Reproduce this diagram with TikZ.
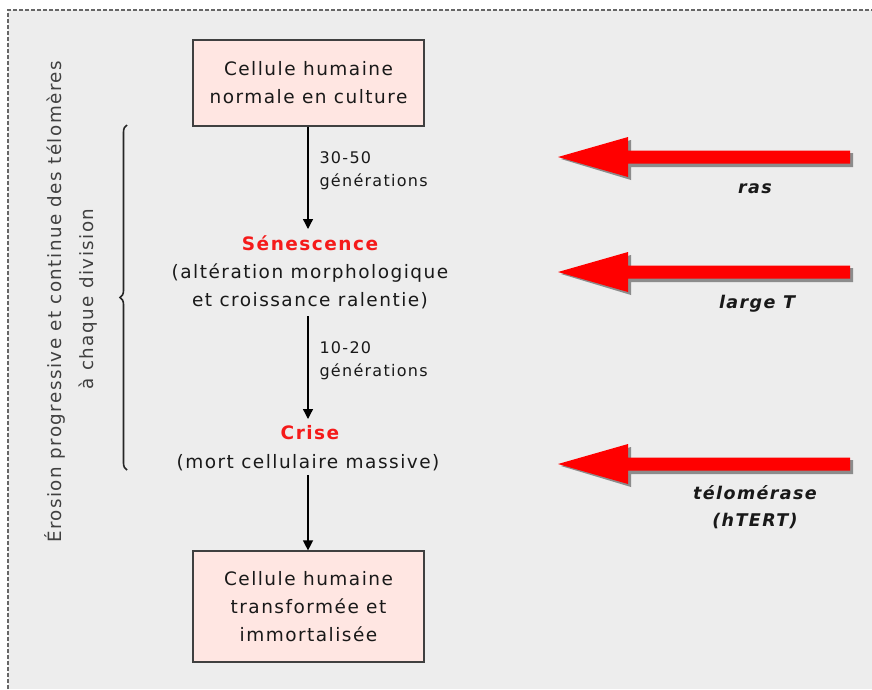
\documentclass[tikz,border=0pt]{standalone}
\usepackage{fontspec}
\setmainfont{DejaVu Sans}[LetterSpace=8]
\usetikzlibrary{arrows.meta,decorations.pathreplacing}
\definecolor{bg}{HTML}{EDEDED}
\definecolor{boxfill}{HTML}{FFE6E2}
\definecolor{titred}{HTML}{F51A1A}
\definecolor{arrred}{HTML}{FF0000}
\begin{document}
\begin{tikzpicture}[x=1pt,y=-1pt,
  cellbox/.style={draw=black!75,line width=1.2pt,fill=boxfill,minimum width=231pt,align=center,font=\fontsize{18.5}{28}\selectfont,inner sep=0pt,text=black!90},
  maintext/.style={align=center,font=\fontsize{18.5}{28}\selectfont,text=black!90},
  redtitle/.style={font=\fontsize{18.5}{20}\selectfont\bfseries,text=titred},
  gen/.style={align=left,anchor=west,font=\fontsize{16}{23}\selectfont,text=black!90},
  flow/.style={-{Triangle[width=10pt,length=10pt]},line width=1.3pt,black},
  agent/.style={font=\fontsize{17.5}{27}\selectfont\bfseries\itshape,align=center,text=black!90},
  sidetext/.style={rotate=90,font=\fontsize{18.3}{20}\selectfont,text=black!75}]
\useasboundingbox (0,0) rectangle (872,689);
\fill[white] (0,0) rectangle (872,689);
\fill[bg] (8,10) rectangle (872,689);
\draw[black!60,line width=1.5pt,dash pattern=on 4pt off 2pt] (8,689) -- (8,10) -- (872,10);

% boxes
\node[cellbox,minimum height=86pt] (box1) at (308.5,83) {Cellule humaine\\normale en culture};
\node[cellbox,minimum height=111pt] (box2) at (308.5,606.5) {Cellule humaine\\transformée et\\immortalisée};

% stages
\node[redtitle] (sen) at (310,243) {Sénescence};
\node[maintext] (sendesc) at (310,286) {(altération morphologique\\et croissance ralentie)};
\node[redtitle] (crise) at (310,433) {Crise};
\node[maintext] (crisedesc) at (308,463) {(mort cellulaire massive)};

% flow arrows
\draw[flow] (box1.south -| 308,0) -- (308,229) coordinate (a1);
\draw[flow] (308,316) -- (308,419) coordinate (a2);
\draw[flow] (crisedesc.south -| 308,0) -- (box2.north -| 308,0);

\node[gen] (g1) at (316,171) {30-50\\générations};
\node[gen] (g2) at (316,361) {10-20\\générations};

% brace
\draw[decorate,decoration={brace,amplitude=7pt},line width=1.6pt,black!85] (127,470) -- (127,125) coordinate[midway] (bmid);

% side text
\node[sidetext] (side1) at (55,302) {Érosion progressive et continue des télomères};
\node[sidetext] (side2) at (88,299) {à chaque division};

% red arrows
\foreach \yy/\nm in {157/r1,272/r2,464/r3}{
  \fill[black!45] (561,\yy+2) -- (631,\yy-17) -- (631,\yy-4) -- (853,\yy-4) -- (853,\yy+10) -- (631,\yy+10) -- (631,\yy+23) -- cycle;
  \fill[arrred] (558,\yy) -- (628,\yy-20) -- (628,\yy-6.5) -- (850,\yy-6.5) -- (850,\yy+6.5) -- (628,\yy+6.5) -- (628,\yy+20) -- cycle;
  \coordinate (\nm) at (740,\yy);
}
\node[agent] (ras) at (755,189) {ras};
\node[agent] (lt) at (757,304) {large T};
\node[agent] (telo) at (755,507) {télomérase\\(hTERT)};
\end{tikzpicture}
\end{document}
